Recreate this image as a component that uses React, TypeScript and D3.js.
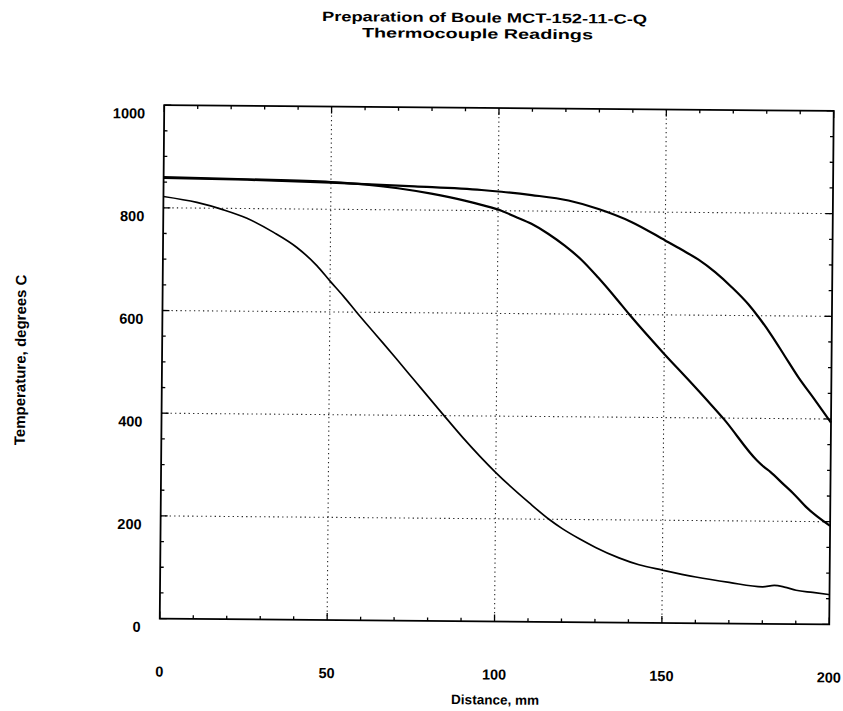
import React from 'react';
import * as d3 from 'd3';

const W = 843;
const H = 711;

const titleLines = ['Preparation of Boule MCT-152-11-C-Q', 'Thermocouple Readings'];
const xLabel = 'Distance, mm';
const yLabel = 'Temperature, degrees C';

const xTickValues = [0, 50, 100, 150, 200];
const yTickValues = [0, 200, 400, 600, 800, 1000];

// Series A (thin, fastest cooling)
const distA = [0, 10, 18, 25, 33, 40, 46, 50, 54, 58, 64, 70, 76, 84, 90, 100, 110, 116, 120, 125, 130, 137, 143, 150, 160, 170, 180, 183.5, 186.5, 190, 195, 200];
const tempA = [822, 811, 797, 781, 754, 725, 690, 660, 631, 600, 555, 510, 464, 403, 358, 290, 232, 200, 182, 163, 146, 126, 113, 103, 90, 80, 72, 75, 72, 66, 62, 58];

// Series B (middle)
const distB = [0, 25, 50, 60, 70, 80, 90, 95, 101, 105, 110, 115, 120, 125, 130, 135, 139.5, 150, 157, 163, 168, 178, 180, 182, 186, 189, 193, 200];
const tempB = [860, 857, 853, 849, 842, 832, 819, 811, 800, 789, 775, 756, 733, 706, 672, 635, 600, 524, 476, 434, 398, 318, 306, 296, 272, 254, 227, 192];

// Series C (slowest cooling)
const distC = [0, 25, 50, 75, 95, 101, 110, 121, 130, 140, 150, 155, 160, 165, 170, 175, 178, 182, 186, 190, 195, 200];
const tempC = [858, 856, 852, 846, 840, 837, 831, 821, 805, 780, 745, 727, 708, 684, 655, 622, 598, 562, 522, 482, 438, 393];

const series = [
  { dist: distA, temp: tempA, width: 1.7 },
  { dist: distB, temp: tempB, width: 2.2 },
  { dist: distC, temp: tempC, width: 2.2 },
];

const LEFT = 162;
const RIGHT = 831.5;
const TOP = 108;
const BOTTOM = 621.5;

const FONT = "'Liberation Sans', Arial, Helvetica, sans-serif";

export default function App() {
  const x = d3.scaleLinear().domain([0, 200]).range([LEFT, RIGHT]);
  const y = d3.scaleLinear().domain([0, 1000]).range([BOTTOM, TOP]);

  const line = d3
    .line<[number, number]>()
    .x((d) => x(d[0]))
    .y((d) => y(d[1]))
    .curve(d3.curveMonotoneX);

  const xMinor = d3.range(0, 201, 10);
  const yMinor = d3.range(0, 1001, 50);
  const gridX = [50, 100, 150];
  const gridY = [200, 400, 600, 800];

  return (
    <svg
      width={W}
      height={H}
      style={{ position: 'absolute', left: 0, top: 0, background: '#fff' }}
      fontFamily={FONT}
    >
      <rect x={0} y={0} width={W} height={H} fill="#fff" />
      <g transform="rotate(0.5, 496, 364)">
        {/* Title */}
        <text x={481.5} y={22.5} textAnchor="middle" fontSize={13.5} fontWeight="bold" textLength={325} lengthAdjust="spacingAndGlyphs">
          {titleLines[0]}
        </text>
        <text x={474.6} y={38.5} textAnchor="middle" fontSize={13.5} fontWeight="bold" textLength={231} lengthAdjust="spacingAndGlyphs">
          {titleLines[1]}
        </text>

        {/* Grid */}
        {gridX.map((v) => (
          <line key={'gx' + v} x1={x(v)} x2={x(v)} y1={TOP} y2={BOTTOM} stroke="#222" strokeWidth={1.1} strokeDasharray="1.3,3.2" />
        ))}
        {gridY.map((v) => (
          <line key={'gy' + v} x1={LEFT} x2={RIGHT} y1={y(v)} y2={y(v)} stroke="#222" strokeWidth={1.1} strokeDasharray="1.3,3.2" />
        ))}

        {/* Minor / major ticks */}
        {xMinor.map((v) => {
          const major = v % 50 === 0;
          const len = major ? 7 : 3.5;
          return (
            <g key={'xt' + v}>
              <line x1={x(v)} x2={x(v)} y1={BOTTOM} y2={BOTTOM - len} stroke="#000" strokeWidth={1.3} />
              <line x1={x(v)} x2={x(v)} y1={TOP} y2={TOP + len} stroke="#000" strokeWidth={1.3} />
            </g>
          );
        })}
        {yMinor.map((v) => {
          const major = v % 200 === 0;
          const len = major ? 7 : 3.5;
          return (
            <g key={'yt' + v}>
              <line x1={LEFT} x2={LEFT + len} y1={y(v)} y2={y(v)} stroke="#000" strokeWidth={1.3} />
              <line x1={RIGHT} x2={RIGHT - len} y1={y(v)} y2={y(v)} stroke="#000" strokeWidth={1.3} />
            </g>
          );
        })}

        {/* Curves */}
        {series.map((s, i) => (
          <path
            key={'s' + i}
            d={line(s.dist.map((d, j) => [d, s.temp[j]] as [number, number])) || ''}
            fill="none"
            stroke="#000"
            strokeWidth={s.width}
            strokeLinejoin="round"
          />
        ))}

        {/* Frame */}
        <rect x={LEFT} y={TOP} width={RIGHT - LEFT} height={BOTTOM - TOP} fill="none" stroke="#000" strokeWidth={1.8} />

        {/* Tick labels */}
        {yTickValues.map((v) => (
          <text key={'yl' + v} x={143} y={y(v) + 13.5} textAnchor="end" fontSize={14.5} fontWeight="bold">
            {v}
          </text>
        ))}
        {xTickValues.map((v) => (
          <text key={'xl' + v} x={x(v)} y={679.5} textAnchor="middle" fontSize={14.5} fontWeight="bold">
            {v}
          </text>
        ))}

        {/* Axis titles */}
        <text x={498} y={704.5} textAnchor="middle" fontSize={13.5} fontWeight="bold">
          {xLabel}
        </text>
        <text
          transform={`translate(25.5, 364) rotate(-90)`}
          textAnchor="middle"
          fontSize={15}
          fontWeight="bold"
        >
          {yLabel}
        </text>
      </g>
    </svg>
  );
}
